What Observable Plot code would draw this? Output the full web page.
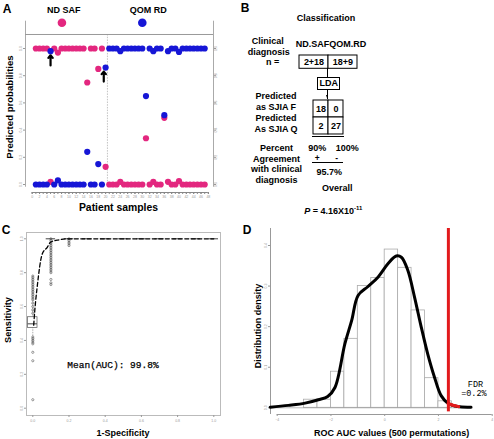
<!DOCTYPE html>
<html><head><meta charset="utf-8">
<script src="https://cdn.jsdelivr.net/npm/d3@7"></script>
<script src="https://cdn.jsdelivr.net/npm/@observablehq/plot@0.6"></script>
<style>
html,body{margin:0;padding:0;background:#fff;}
#root{position:relative;width:494px;height:439px;overflow:hidden;font-family:"Liberation Sans",Arial,sans-serif;}
.t{position:absolute;white-space:nowrap;font-weight:bold;font-size:9px;color:#000;line-height:1;}
.ln{position:absolute;background:#000;}
#root svg{position:absolute;}
</style></head><body><div id="root"></div>
<script>
// ---------------- DATA ----------------
// Panel A: predicted probabilities per patient sample
const sampleIds = [1,2,3,4,5,6,7,8,9,10,11,12,13,14,15,16,17,18,19,20,21,22,23,24,25,26,27,28,29,30,31,32,33,34,35,36,37,38,39,40,41,42,43,44,45,46,47];
const probNDSAF = [1,1,1,1,0.02,1,0.97,1,1,1,1,1,1,1,0.75,1,1,0.85,1,0.13,
  0,0,0,0.02,0,0,0,0,0,0, 0.34,0,0.02,0,0,0.49,0.02,0,0,0.025, 0,0,0,0,0,0,0];
const probQOMRD = [0,0,0,0,0.98,0,0.03,0,0,0,0,0,0,0,0.24,0,0,0.15,0,0.86,
  1,1,1,0.98,1,1,1,1,1,1, 0.65,1,0.98,1,1,0.51,0.98,1,1,0.975, 1,1,1,1,1,1,1];
const groupNames = ["ND SAF","QOM RD"];
const groupColors = ["#e3277f","#1616d6"];
const groupBoundary = 20.5;
const arrowSamples = [5, 19.5];
const arrowFrom = [0.875, 0.757];
const arrowTo = [0.95, 0.83];
const xTicksA = [0,2,4,6,8,10,12,14,16,18,20,22,24,26,28,30,32,34,36,38,40,42,44,46,48];
const yTicksA = [0,0.2,0.4,0.6,0.8,1.0];

// Panel B: classification table
const classes = ["ND.SAF","QOM.RD"];
const clinicalN = ["2+18","18+9"];
const predictedRows = ["SJIA F","SJIA Q"];
const confusion = [[18,0],[2,27]];
const agreement = ["90%","100%"];
const overallAgreement = "95.7%";
const pValue = "4.16X10";
const pExponent = "-11";

// Panel C: ROC
const rocFpr = [0.005,0.011,0.024,0.052,0.08,0.098,0.144,0.19,0.3,0.5,0.7,1.0];
const rocTpr = [0.49,0.577,0.714,0.91,0.95,0.98,0.994,1.0,1.0,1.0,1.0,1.0];
const boxFpr = [0,0.1,0.2,0.3,0.4,0.5,0.6,0.7,0.8,0.9,1.0];
const boxLo  = [0.38,0.80,0.96,1,1,1,1,1,1,1,1];
const boxQ1  = [0.474,1,1,1,1,1,1,1,1,1,1];
const boxMed = [0.498,1,1,1,1,1,1,1,1,1,1];
const boxQ3  = [0.537,1,1,1,1,1,1,1,1,1,1];
const boxHi  = [0.78,1,1,1,1,1,1,1,1,1,1];
const sensAt0 = [0.78,0.77,0.76,0.75,0.74,0.73,0.72,0.71,0.70,0.69,0.68,0.67,0.66,0.65,0.64,0.62,0.60,0.58,0.56,0.42,0.41,0.40,0.39,0.38,0.33,0.28,0.05];
const sensAt01 = [1,0.99,0.98,0.97,0.96,0.95,0.94,0.93,0.92,0.91,0.90,0.89,0.88,0.87,0.86,0.85,0.84,0.83,0.82,0.81,0.80,0.76,0.74,0.73];
const sensAt02 = [1,0.99,0.98,0.97,0.96];
const meanAUC = "99.8%";
const ticksC = [0,0.2,0.4,0.6,0.8,1.0];

// Panel D: permutation distribution
const histStart = [-3,-2.5,-2,-1.5,-1,-0.5,0,0.5,1,1.5,2];
const histDensity = [0.02,0.02,0.089,0.17,0.30,0.32,0.39,0.345,0.24,0.073,0.016];
const densX = [-4.26,-3.58,-2.96,-2.47,-2.12,-1.85,-1.48,-1.23,-0.99,-0.62,-0.25,0.12,0.43,0.62,0.86,1.11,1.36,1.6,1.85,2.1,2.35,2.72,3.21];
const densY = [0.0016,0.006,0.0115,0.02,0.028,0.05,0.158,0.215,0.277,0.299,0.322,0.355,0.374,0.371,0.339,0.273,0.199,0.133,0.076,0.03,0.0115,0.003,0.0016];
const observedAUC = 2.37;
const tailX = [2.37,2.5,2.62,2.75];
const tailY = [0.011,0.007,0.005,0.003];
const fdrText = ["FDR","=0.2%"];
const ticksDx = [-4,-2,0,2,4];
const ticksDy = [0,0.1,0.2,0.3,0.4];

// ---------------- HELPERS ----------------
const root = document.getElementById("root");
const FONT = "Liberation Sans, Arial, sans-serif";
const MONO = "Liberation Mono, Courier New, monospace";
const baseStyle = {fontFamily: FONT, color: "#999", background: "transparent", overflow: "visible"};
function place(el, left, top) { el.style.left = left + "px"; el.style.top = top + "px"; root.appendChild(el); }
function label(html, x, y, o = {}) {
  const d = document.createElement("div");
  d.className = "t";
  d.innerHTML = html;
  if (o.size) d.style.fontSize = o.size + "px";
  if (o.family) d.style.fontFamily = o.family;
  if (o.weight) d.style.fontWeight = o.weight;
  const tx = o.anchor === "start" ? "0" : o.anchor === "end" ? "-100%" : "-50%";
  d.style.transform = `translate(${tx},-50%)` + (o.rotate ? ` rotate(${o.rotate}deg)` : "");
  place(d, x, y);
}
function line(x, y, w, h) { const d = document.createElement("div"); d.className = "ln"; d.style.width = w + "px"; d.style.height = h + "px"; place(d, x, y); }

// ---------------- PANEL A ----------------
const samples = sampleIds.map((id, i) => ({id, nd: probNDSAF[i], qom: probQOMRD[i]}));
const groups = groupNames.map((name, i) => ({name, color: groupColors[i], tx: [8.6, 31.6][i], dx: [8.1, 30.0][i]}));
const arrows = arrowSamples.map((s, i) => ({s, from: arrowFrom[i], to: arrowTo[i]}));
const ax0 = -1.826, ax1 = 49.40, ay0 = -0.0588, ay1 = 1.2007;
const A = Plot.plot({
  width: 240, height: 200, marginLeft: 25, marginRight: 27, marginTop: 20.7, marginBottom: 8,
  x: {domain: [ax0, ax1], label: null}, y: {domain: [ay0, ay1], label: null},
  style: baseStyle,
  marks: [
    Plot.ruleX([ax0, ax1], {y1: -0.02, y2: ay1, stroke: "#aaa"}),
    Plot.ruleY([1.103], {x1: ax0, x2: ax1, stroke: "#999"}),
    Plot.ruleX([groupBoundary], {y1: -0.02, y2: 1.103, stroke: "#999", strokeWidth: 0.6, strokeDasharray: "1.5,1.2"}),
    Plot.ruleY([ay0], {x1: 0, x2: 48, stroke: "#888"}),
    Plot.axisX({ticks: sampleIds.concat([0,48]), tickSize: 2, tickFormat: () => "", stroke: "#888"}),
    Plot.axisX({ticks: xTicksA, tickSize: 2, tickPadding: 1.2, fontSize: 3.5, stroke: "#888"}),
    Plot.axisY({anchor: "left", ticks: yTicksA, tickSize: 2, tickPadding: 1.5, tickRotate: -90, fontSize: 3.5, tickFormat: d3.format(".1f")}),
    Plot.axisY({anchor: "right", ticks: yTicksA, tickSize: 2, tickPadding: 1.5, tickRotate: -90, fontSize: 3.5, tickFormat: d3.format(".1f")}),
    Plot.dot(samples, {x: "id", y: "nd", r: 3.1, fill: groupColors[0]}),
    Plot.dot(samples, {x: "id", y: "qom", r: 3.1, fill: groupColors[1]}),
    Plot.arrow(arrows, {x1: "s", x2: "s", y1: "from", y2: "to", stroke: "#000", strokeWidth: 2.2, headLength: 4, headAngle: 80}),
    Plot.dot(groups, {x: "dx", y: 1.189, r: 4.3, fill: "color"}),
    Plot.text(groups, {x: "tx", y: 1.2846, text: "name", fill: "#000", fontSize: 9, fontWeight: "bold"})
  ]
});
place(A, 0, 0);
label("A", 7, 9, {size: 12});
label("Predicted probabilities", 10, 107, {size: 9.6, rotate: -90});
label("Patient samples", 118.5, 208, {size: 10.4});

// ---------------- PANEL B ----------------
label("B", 245, 8, {size: 12});
label("Classification", 326, 18);
label("Clinical", 267.7, 41);
label("diagnosis", 268.8, 51.5);
label("n =", 279.3, 62, {anchor: "end"});
label(classes.join(""), 331, 43.5);
const nBox = Plot.plot({
  width: 60, height: 15.3, margin: 1,
  x: {domain: classes, type: "band", padding: 0, axis: null},
  style: {fontFamily: FONT, background: "transparent", overflow: "visible"},
  marks: [
    Plot.cell(classes, {x: d => d, fill: "white", stroke: "#000", strokeWidth: 1}),
    Plot.text(classes, {x: d => d, text: (d, i) => clinicalN[i], fontSize: 9, fontWeight: "bold", fill: "#000"})
  ]
});
place(nBox, 298.3, 54);
line(327, 68.3, 1, 8.4);
const lda = document.createElement("div");
lda.className = "t";
lda.style.cssText += "width:21px;height:11px;border:1px solid #000;text-align:center;line-height:11px;";
lda.textContent = "LDA";
place(lda, 317.3, 76.7);
line(327, 89.5, 1, 9);
const tri = document.createElement("div");
tri.style.cssText = "position:absolute;width:0;height:0;border-left:1.5px solid transparent;border-right:1.5px solid transparent;border-top:3px solid #000;";
place(tri, 326, 94.5);
const cells = [];
predictedRows.forEach((r, i) => classes.forEach((c, j) => cells.push({r, c, v: confusion[i][j]})));
const matrix = Plot.plot({
  width: 33.6, height: 37.3, margin: 1,
  x: {domain: classes, type: "band", padding: 0, axis: null},
  y: {domain: predictedRows, type: "band", padding: 0, axis: null},
  style: {fontFamily: FONT, background: "transparent", overflow: "visible"},
  marks: [
    Plot.cell(cells, {x: "c", y: "r", fill: "white", stroke: "#000", strokeWidth: 1}),
    Plot.text(cells, {x: "c", y: "r", text: "v", fontSize: 9, fontWeight: "bold", fill: "#000"})
  ]
});
place(matrix, 310.7, 98);
predictedRows.forEach((r, i) => {
  label("Predicted", 276, [96, 118.3][i]);
  label((i === 0 ? "as " : "As ") + r, 276, [106.7, 129.3][i]);
});
line(311.7, 136, 32.5, 1);
label(agreement[0], 317.3, 147.6);
label(agreement[1], 347.3, 147.6);
label("+", 317.3, 157.5, {size: 8.5});
label("-", 336.7, 157.5, {size: 8.5});
line(311.7, 161.5, 31.6, 1);
label(overallAgreement, 329.3, 172.3);
label("Overall", 337.3, 187.7);
["Percent", "Agreement", "with clinical", "diagnosis"].forEach((s, i) => label(s, 276.5, [147.7, 158.7, 169.3, 180.3][i]));
label(`<i>P</i> = ${pValue}<sup style="font-size:6px;vertical-align:4px">${pExponent}</sup>`, 333.3, 210);

// ---------------- PANEL C ----------------
const roc = rocFpr.map((f, i) => ({f, t: rocTpr[i]}));
const boxes = boxFpr.map((f, i) => ({f, lo: boxLo[i], q1: boxQ1[i], med: boxMed[i], q3: boxQ3[i], hi: boxHi[i]}));
const strip = [
  ...sensAt0.map(s => ({f: boxFpr[0], s})),
  ...sensAt01.map(s => ({f: boxFpr[1], s})),
  ...sensAt02.map(s => ({f: boxFpr[2], s}))
];
const hw = 0.026;
const cx0 = -0.0348, cx1 = 1.037, cy0 = -0.0431, cy1 = 1.0372;
const C = Plot.plot({
  width: 240, height: 224, marginLeft: 26, marginRight: 20, marginTop: 17, marginBottom: 24,
  x: {domain: [cx0, cx1], label: null}, y: {domain: [cy0, cy1], label: null},
  style: baseStyle,
  marks: [
    Plot.frame({stroke: "#bbb"}),
    Plot.axisX({ticks: ticksC, tickSize: 2, tickPadding: 1.5, fontSize: 3.5, tickFormat: d3.format(".1f")}),
    Plot.axisY({ticks: ticksC, tickSize: 2, tickPadding: 1.5, tickRotate: -90, fontSize: 3.5, tickFormat: d3.format(".1f")}),
    Plot.ruleX(boxes, {x: "f", y1: "lo", y2: "q1", stroke: "#777", strokeWidth: 0.6, strokeDasharray: "1.5,1"}),
    Plot.ruleX(boxes, {x: "f", y1: "q3", y2: "hi", stroke: "#777", strokeWidth: 0.6, strokeDasharray: "1.5,1"}),
    Plot.dot(strip, {x: "f", y: "s", r: 1.1, stroke: "#555", strokeWidth: 0.6, fill: "none"}),
    Plot.rect(boxes, {x1: d => d.f - hw, x2: d => d.f + hw, y1: "q1", y2: "q3", fill: "white", stroke: "#555", strokeWidth: 0.7}),
    Plot.ruleY(boxes, {y: "med", x1: d => d.f - hw, x2: d => d.f + hw, stroke: "#444", strokeWidth: 1}),
    Plot.line(roc, {x: "f", y: "t", stroke: "#000", strokeWidth: 1.3, strokeDasharray: "4,2.5", curve: "monotone-x"}),
    Plot.text([meanAUC], {x: 0.443, y: 0.256, text: d => `Mean(AUC): ${d}`, fill: "#000", fontSize: 9.5, fontFamily: MONO, stroke: "#000", strokeWidth: 0.25})
  ]
});
place(C, 0, 215);
label("C", 6, 230, {size: 12});
label("Sensitivity", 8.5, 320, {size: 9.2, rotate: -90});
label("1-Specificity", 123, 432.5, {size: 9});

// ---------------- PANEL D ----------------
const hist = histStart.map((s, i) => ({x1: s, x2: s + 0.5, y: histDensity[i]}));
const dens = densX.map((x, i) => ({x, y: densY[i]}));
const tail = tailX.map((x, i) => ({x, y: tailY[i]}));
const dx0 = -4.249, dx1 = 4.086, dy0 = -0.0165, dy1 = 0.4419;
const D = Plot.plot({
  width: 249, height: 224, marginLeft: 25, marginRight: 0, marginTop: 13, marginBottom: 25,
  x: {domain: [dx0, dx1], label: null}, y: {domain: [dy0, dy1], label: null},
  style: baseStyle,
  marks: [
    Plot.ruleX([dx0], {y1: dy0, y2: dy1, stroke: "#999"}),
    Plot.ruleY([dy0], {x1: -4, x2: 4, stroke: "#999"}),
    Plot.axisX({ticks: ticksDx, tickSize: 2, tickPadding: 1.5, fontSize: 3.5}),
    Plot.axisY({ticks: ticksDy, tickSize: 2, tickPadding: 1.5, tickRotate: -90, fontSize: 3.5, tickFormat: d3.format(".1f")}),
    Plot.rectY(hist, {x1: "x1", x2: "x2", y1: 0, y2: "y", fill: "white", stroke: "#aaa", strokeWidth: 0.8}),
    Plot.ruleY([0], {x1: -4.25, x2: 3.3, stroke: "#888", strokeWidth: 0.6}),
    Plot.line(dens, {x: "x", y: "y", stroke: "#000", strokeWidth: 3, curve: "catmull-rom"}),
    Plot.ruleX([observedAUC], {y1: -0.01, y2: dy1, stroke: "#e21a1c", strokeWidth: 3}),
    Plot.line(tail, {x: "x", y: "y", stroke: "#e21a1c", strokeWidth: 3}),
    Plot.dot(tail, {x: "x", y: "y", r: 1.6, fill: "#e21a1c"}),
    Plot.text(fdrText, {x: [3.38, 3.32], y: [0.059, 0.036], text: d => d, fill: "#000", fontSize: 8.5, fontFamily: MONO})
  ]
});
place(D, 245, 215);
label("D", 247, 230, {size: 12});
label("Distribution density", 258, 326, {size: 9, rotate: -90});
label("ROC AUC values (500 permutations)", 391.7, 432.5, {size: 9});
</script></body></html>
